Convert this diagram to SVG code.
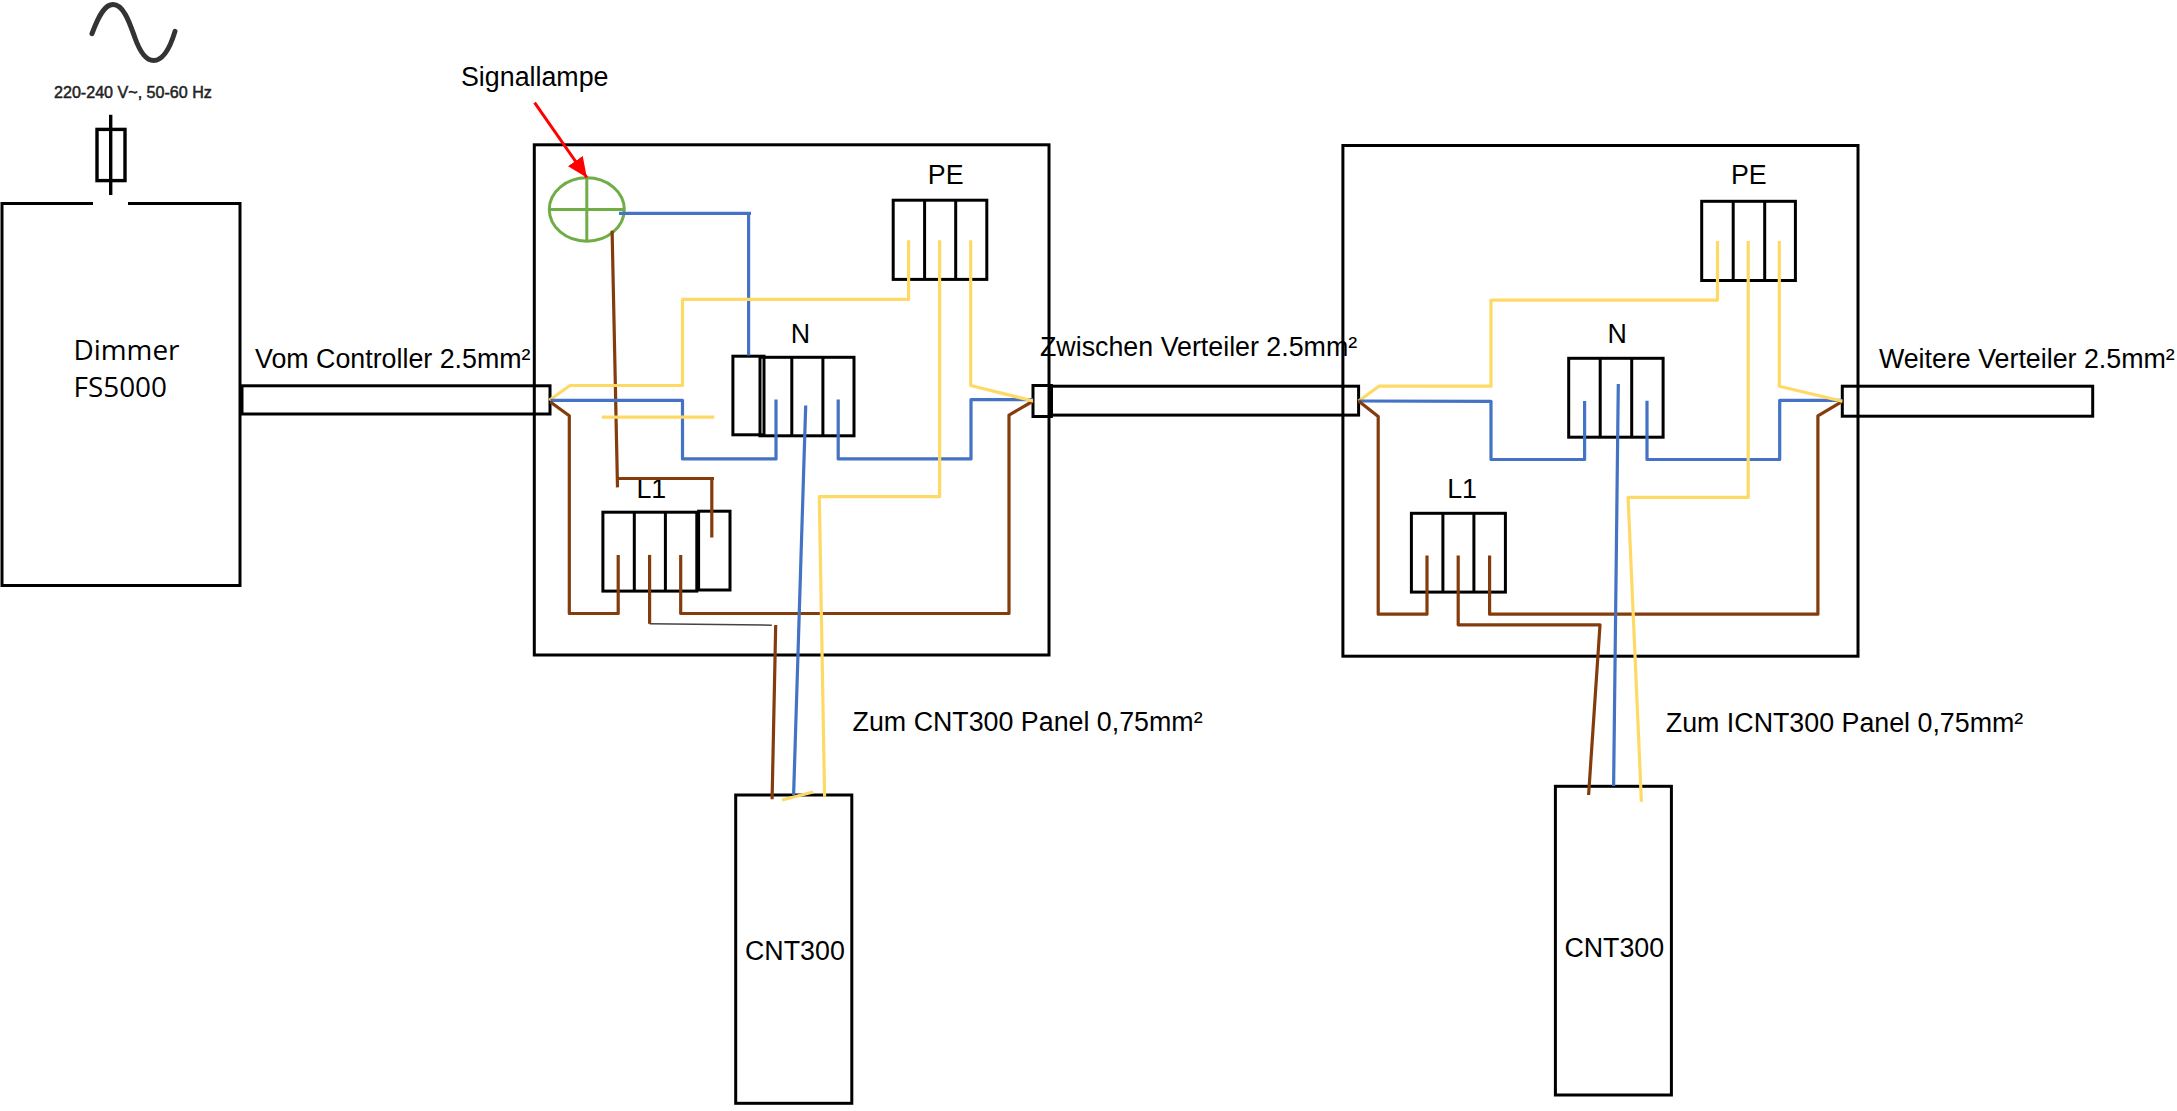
<svg xmlns="http://www.w3.org/2000/svg" width="2177" height="1111" viewBox="0 0 2177 1111">
<defs>
<style>
.b{fill:none;stroke:#000;stroke-width:3}
.t{font-family:"Liberation Sans",Arial,sans-serif;font-size:26.8px;fill:#000}
.w{fill:none;stroke-width:3.2;stroke-linejoin:round}
.y{stroke:#FFD966}.u{stroke:#4472C4}.r{stroke:#843C0C}
.g{fill:none;stroke:#70AD47;stroke-width:3}
</style>
<marker id="ah" markerUnits="userSpaceOnUse" markerWidth="22" markerHeight="20" refX="20" refY="9" orient="auto">
<path d="M0 0L20 9L0 18Z" fill="#FF0000"/>
</marker>
</defs>
<rect width="2177" height="1111" fill="#fff"/>

<g id="source">
<path d="M92 33.7C100 12 106 4.6 113 4.6C124 4.6 130 24 135 38C140 52 146 60.5 153.6 60.5C163 60.5 170 48 175 31.4" fill="none" stroke="#333" stroke-width="5" stroke-linecap="round"/>
<text x="54" y="98.4" font-family="Liberation Sans,Arial,sans-serif" font-size="16.1" fill="#222" stroke="#222" stroke-width=".5">220-240 V~, 50-60 Hz</text>
</g>
<g id="fuse">
<rect x="97" y="129.4" width="28" height="51.2" fill="none" stroke="#000" stroke-width="3.4"/>
<path d="M110.7 114.8V195" fill="none" stroke="#000" stroke-width="3.4"/>
</g>
<g id="dimmer">
<path class="b" d="M93 203.6H2V585.5H240V203.6H128"/>
<text x="73.5" y="359.7" font-family="Open Sans,sans-serif" font-size="27.9">Dimmer</text>
<text x="73.5" y="397.2" font-family="Open Sans,sans-serif" font-size="27.9">FS5000</text>
</g>

<g id="cable-1"><rect class="b" x="242" y="385.8" width="308" height="28.2"/><text class="t" x="255" y="368">Vom Controller 2.5mm²</text></g>
<g id="cable-2"><rect class="b" x="1033" y="385.5" width="18.4" height="31"/><rect class="b" x="1051.4" y="386.2" width="307.2" height="28.9"/><text class="t" x="1040" y="355.6">Zwischen Verteiler 2.5mm²</text></g>
<g id="cable-3"><rect class="b" x="1842.3" y="386.2" width="250.4" height="30"/><text class="t" x="1878.9" y="367.6">Weitere Verteiler 2.5mm²</text></g>

<g id="box-1"><rect class="b" x="534.3" y="144.8" width="514.7" height="510.2"/></g>
<g id="box-2"><rect class="b" x="1342.9" y="145.5" width="515.1" height="510.7"/></g>

<g id="signal-lamp">
<ellipse class="g" cx="586.8" cy="209.5" rx="37.5" ry="31.7"/>
<path class="g" d="M550 209.5H623.5M586.8 177.8V241.2"/>
<text class="t" x="461" y="86">Signallampe</text>
</g>

<g id="pe-1"><rect class="b" x="893.2" y="200.2" width="93.6" height="79.2"/><path class="b" d="M924.6 200.2V279.4M955.7 200.2V279.4"/><text class="t" x="927.8" y="184.4">PE</text></g>
<g id="n-1"><rect class="b" x="760" y="357.3" width="94" height="78.5"/><path class="b" d="M791.8 357.3V435.8M822.9 357.3V435.8"/><rect class="b" x="732.9" y="356.2" width="31.1" height="78.6"/><text class="t" x="790.8" y="342.5">N</text></g>
<g id="l1-1"><rect class="b" x="602.9" y="512.2" width="93.9" height="78.9"/><path class="b" d="M634.3 512.2V591.1M665.4 512.2V591.1"/><rect class="b" x="698.6" y="511.2" width="31.4" height="78.8"/><text class="t" x="636.4" y="497.8">L1</text></g>

<g id="pe-2"><rect class="b" x="1701.7" y="201.3" width="93.7" height="79.2"/><path class="b" d="M1733.2 201.3V280.5M1764.7 201.3V280.5"/><text class="t" x="1731" y="184.4">PE</text></g>
<g id="n-2"><rect class="b" x="1568.7" y="358.3" width="94.4" height="78.9"/><path class="b" d="M1600.2 358.3V437.2M1631.7 358.3V437.2"/><text class="t" x="1607.6" y="342.5">N</text></g>
<g id="l1-2"><rect class="b" x="1411.4" y="513.3" width="94" height="78.8"/><path class="b" d="M1442.9 513.3V592.1M1473.9 513.3V592.1"/><text class="t" x="1447.2" y="497.8">L1</text></g>

<g id="panel-1"><rect class="b" x="735.7" y="795" width="116.1" height="308.3"/><text class="t" x="745" y="960.2">CNT300</text></g>
<g id="panel-2"><rect class="b" x="1555.4" y="786.3" width="116" height="308.7"/><text class="t" x="1564.4" y="957.2">CNT300</text></g>
<g id="label-panels"><text class="t" x="852.6" y="731.2">Zum CNT300 Panel 0,75mm²</text><text class="t" x="1665.8" y="732.2">Zum ICNT300 Panel 0,75mm²</text></g>

<g id="connectors">
<path d="M534.6 102.6L586.8 177.5" fill="none" stroke="#FF0000" stroke-width="3" marker-end="url(#ah)"/>
<path class="w u" d="M619 213.3H751M748.6 213.3V355.6"/>
<path class="w r" d="M612.1 230.6L617.5 487.4M617.5 478.5H714M711.8 478.5V537.4"/>
<path class="w y" d="M549.3 400.3L570 385.5H682.5V299.4H908.6V240.2"/>
<path class="w u" d="M550.4 400.3H682.5V458.9H776V399.6"/>
<path class="w y" d="M601.8 417.2H714.3"/>
<path class="w r" d="M550.4 402L569.3 415.8V613.5H618.2V554.9"/>
<path class="w r" d="M649.6 554.9V623.8"/>
<path fill="none" stroke="#444" stroke-width="1.5" d="M649.6 623.8L771.8 625.2"/>
<path class="w r" d="M680.7 554.9V613.5H1009V415.1L1033.2 401"/>
<path class="w u" d="M838.2 399.6V458.9H971V399.6H1033"/>
<path class="w y" d="M970.7 240.2V385.5L1033 401"/>
<path class="w y" d="M939.6 240.2V496.7H819.3L824.6 796.7"/>
<path class="w u" d="M805.7 405.5L793.6 795"/>
<path class="w r" d="M775.7 625L772.1 799.3"/>
<path class="w y" d="M782.1 800L813.2 792"/>

<path class="w y" d="M1358.6 401L1379 386.2H1491V300.1H1717.5V240.9"/>
<path class="w u" d="M1358.6 401L1491 401.3V459.5H1584.6V401"/>
<path class="w r" d="M1358.6 401L1378.2 416.5V614.2H1427V555.6"/>
<path class="w r" d="M1458.2 555.6V624.8H1600L1588.6 795"/>
<path class="w r" d="M1489.6 555.6V614.2H1817.9V415.8L1842.3 401.3"/>
<path class="w u" d="M1647 400.7V459.5H1779.7V400.3H1842.3"/>
<path class="w y" d="M1779.3 240.9V386.2L1842.3 401.3"/>
<path class="w y" d="M1748.2 240.9V497.4H1628.1L1641.4 801.7"/>
<path class="w u" d="M1618.3 384.1L1613.6 786"/>
</g>
</svg>
